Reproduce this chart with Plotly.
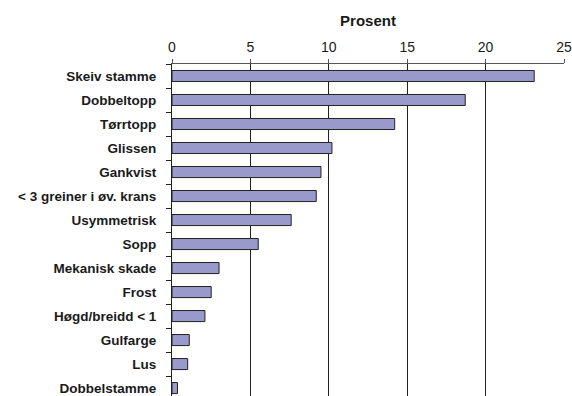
import plotly.graph_objects as go

categories = ["Skeiv stamme", "Dobbeltopp", "Tørrtopp", "Glissen", "Gankvist",
              "< 3 greiner i øv. krans", "Usymmetrisk", "Sopp", "Mekanisk skade",
              "Frost", "Høgd/breidd < 1", "Gulfarge", "Lus", "Dobbelstamme"]
values = [23.1, 18.7, 14.2, 10.2, 9.5, 9.2, 7.6, 5.5, 3.0, 2.5, 2.1, 1.1, 1.0, 0.35]
x_ticks = [0, 5, 10, 15, 20, 25]

fig = go.Figure(go.Bar(
    y=categories, x=values, orientation="h",
    marker=dict(color="#9999CC", line=dict(color="#222222", width=1)),
    width=0.46,
))

font_family = "Liberation Sans, Arial, sans-serif"
fig.update_layout(
    width=572, height=396,
    margin=dict(l=172, r=8, t=64, b=0),
    paper_bgcolor="white", plot_bgcolor="white",
    showlegend=False,
    font=dict(family=font_family, color="#1a1a1a", size=13),
    xaxis=dict(
        side="top", range=[0, 25], tickvals=x_ticks,
        showgrid=True, gridcolor="#222222", gridwidth=1,
        showline=True, linecolor="#555555", linewidth=1,
        ticks="outside", ticklen=4, tickcolor="#555555",
        tickfont=dict(size=14),
        ticklabelstandoff=1,
        title=dict(text="<b>Prosent</b>", font=dict(size=15), standoff=9),
        zeroline=False,
    ),
    yaxis=dict(
        type="category", categoryorder="array", categoryarray=categories,
        range=[13.33, -0.5],
        showline=True, linecolor="#222222", linewidth=1,
        ticks="outside", ticklen=5, tickcolor="#222222", tickson="boundaries",
        tickfont=dict(size=13.5),
        ticklabelstandoff=12,
        showgrid=False,
    ),
)
fig.update_yaxes(ticktext=["<b>%s</b>" % c for c in categories], tickvals=categories)

fig.write_html("out.html")
